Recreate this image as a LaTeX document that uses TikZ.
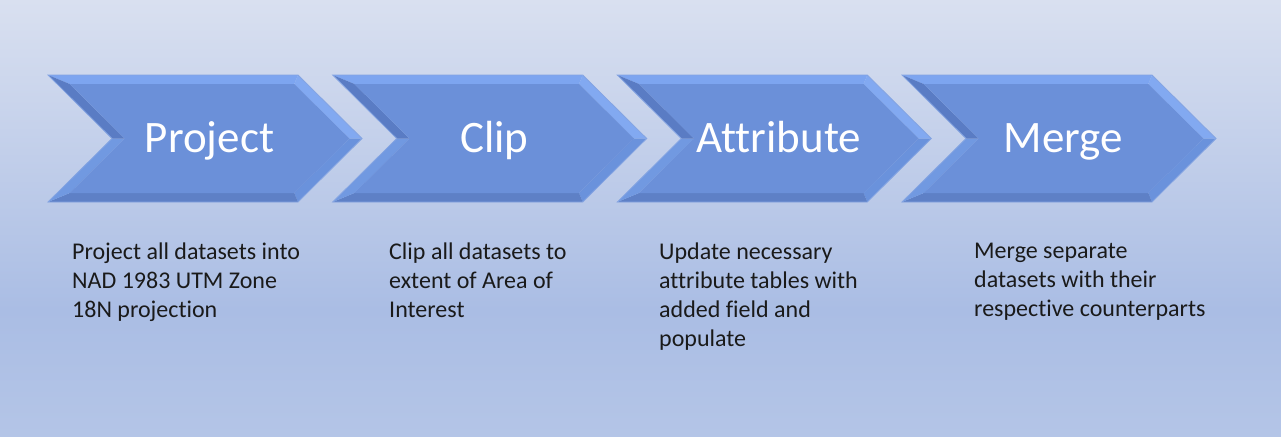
\documentclass[tikz,border=0pt]{standalone}
\usepackage{fontspec}
\setmainfont{Carlito}[RawFeature={-liga;-clig;-calt;-dlig}]
\definecolor{bgtop}{HTML}{D9E0F0}
\definecolor{bgmid}{HTML}{AABDE4}
\definecolor{bgbot}{HTML}{B4C5E7}
\definecolor{face}{HTML}{6B90D9}
\definecolor{bvtop}{HTML}{7DA5F0}
\definecolor{bvlu}{HTML}{5A7CC4}
\definecolor{bvll}{HTML}{7199E1}
\definecolor{bvbot}{HTML}{5E80C6}
\definecolor{bvru}{HTML}{82A9F1}
\definecolor{bvrl}{HTML}{6A92DC}
\definecolor{edge}{HTML}{84A4E2}
\definecolor{txt}{HTML}{1A1A1A}
\tikzset{
  title/.style={anchor=base, text=white, font=\fontsize{45}{50}\selectfont},
  desc/.style={anchor=north west, align=left, text=txt, inner sep=0pt,
    font=\fontsize{24}{29}\selectfont},
}
\newcommand{\chev}[3]{% #1 x0, #2 name, #3 title
  \begin{scope}[shift={(#1,0)}]
    \coordinate (#2-a) at (0,75);
    \coordinate (#2-b) at (250,75);
    \coordinate (#2-c) at (314,138.5);
    \coordinate (#2-d) at (250,202);
    \coordinate (#2-e) at (0,202);
    \coordinate (#2-f) at (64,138.5);
    \coordinate (#2-A) at (21.7,84);
    \coordinate (#2-B) at (246.3,84);
    \coordinate (#2-C) at (301.3,138.5);
    \coordinate (#2-D) at (246.3,193);
    \coordinate (#2-E) at (21.7,193);
    \coordinate (#2-F) at (76.7,138.5);
    \fill[bvtop] (#2-a) -- (#2-b) -- (#2-B) -- (#2-A) -- cycle;
    \fill[bvru] (#2-b) -- (#2-c) -- (#2-C) -- (#2-B) -- cycle;
    \fill[bvrl] (#2-c) -- (#2-d) -- (#2-D) -- (#2-C) -- cycle;
    \fill[bvbot] (#2-d) -- (#2-e) -- (#2-E) -- (#2-D) -- cycle;
    \fill[bvll] (#2-e) -- (#2-f) -- (#2-F) -- (#2-E) -- cycle;
    \fill[bvlu] (#2-f) -- (#2-a) -- (#2-A) -- (#2-F) -- cycle;
    \fill[face] (#2-A) -- (#2-B) -- (#2-C) -- (#2-D) -- (#2-E) -- (#2-F) -- cycle;
    \draw[edge, line width=0.8pt] (#2-a) -- (#2-b) -- (#2-c) -- (#2-d) -- (#2-e) -- (#2-f) -- cycle;
    \node[title] (#2-t) at (161.5,152) {#3};
  \end{scope}
}
\begin{document}
\begin{tikzpicture}[x=1pt,y=-1pt]
  \useasboundingbox (0,0) rectangle (1281,436);
  \shade[top color=bgtop, bottom color=bgmid] (0,0) rectangle (1281,310);
  \shade[top color=bgmid, bottom color=bgbot] (0,309.5) rectangle (1281,436);
  \chev{48}{p}{Project}
  \chev{332.7}{c}{Clip}
  \chev{617.3}{a}{Attribute}
  \chev{902}{m}{Merge}
  \node[desc] (pd) at (72,242.5) {Project all datasets into\\NAD 1983 UTM Zone\\18N projection};
  \node[desc] (cd) at (389,242.5) {Clip all datasets to\\extent of Area of\\Interest};
  \node[desc] (ad) at (659,242.5) {Update necessary\\attribute tables with\\added field and\\populate};
  \node[desc] (md) at (974,242.5) {Merge separate\\datasets with their\\respective counterparts};
\end{tikzpicture}
\end{document}
